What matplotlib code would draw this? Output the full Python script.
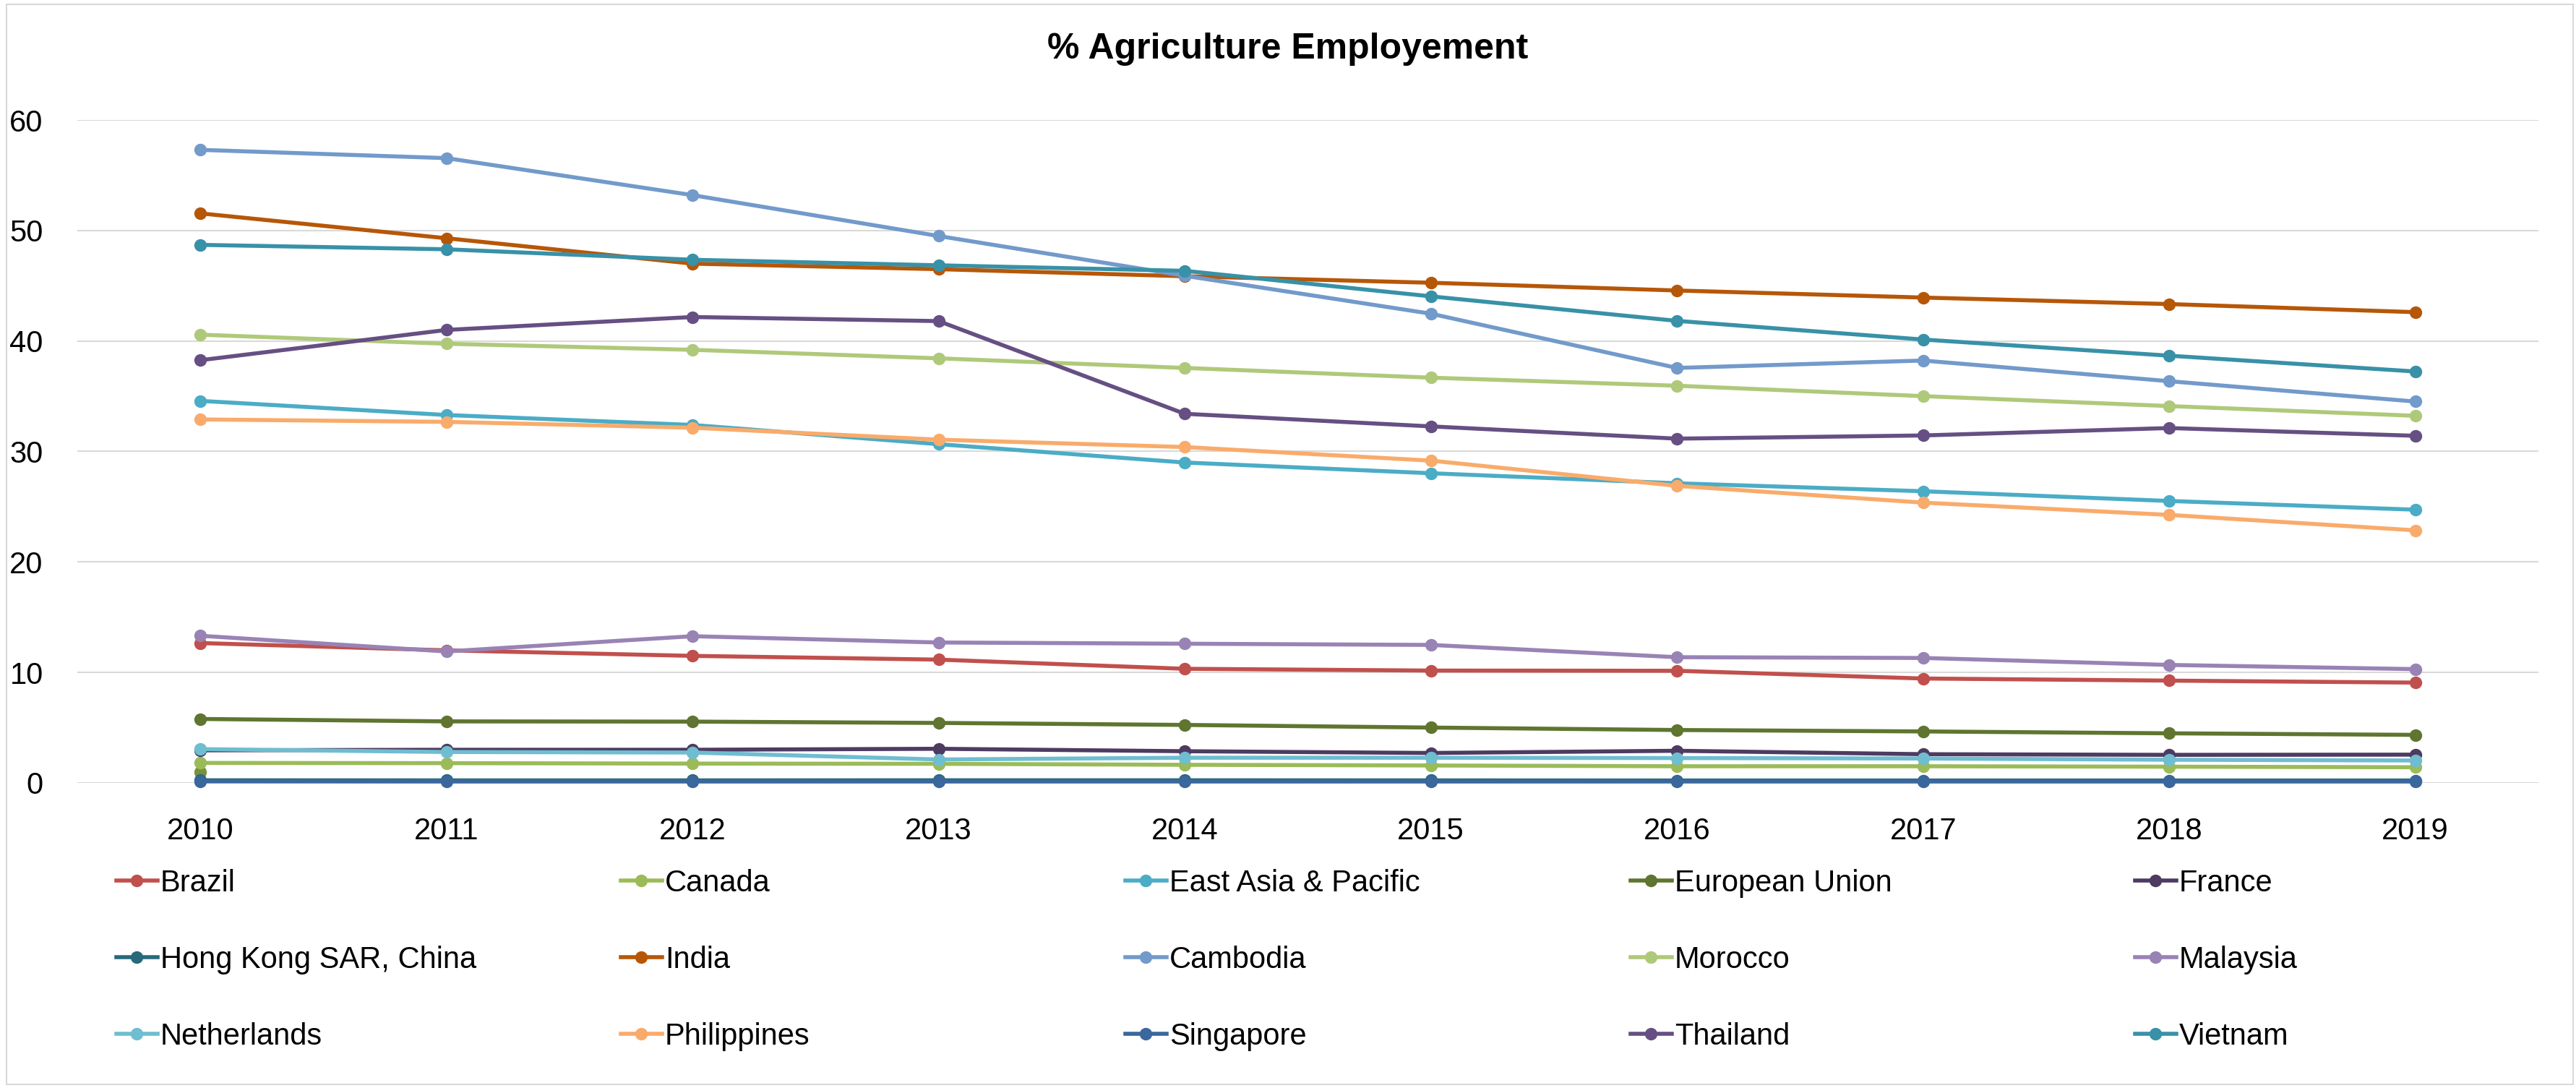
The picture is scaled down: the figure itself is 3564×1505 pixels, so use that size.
import numpy as np
import matplotlib
matplotlib.use("Agg")
import matplotlib.pyplot as plt
from matplotlib.patches import Rectangle

plt.rcParams['font.family'] = ['Liberation Sans', 'DejaVu Sans']

years = ["2010", "2011", "2012", "2013", "2014", "2015", "2016", "2017", "2018", "2019"]

brazil = [12.66, 12.0, 11.5, 11.16, 10.33, 10.17, 10.15, 9.45, 9.26, 9.08]
canada = [1.81, 1.79, 1.75, 1.73, 1.64, 1.58, 1.51, 1.51, 1.47, 1.42]
east_asia = [34.58, 33.3, 32.4, 30.66, 29.0, 28.03, 27.12, 26.4, 25.52, 24.73]
eu = [5.79, 5.57, 5.55, 5.43, 5.25, 5.01, 4.79, 4.66, 4.49, 4.35]
france = [2.95, 3.0, 3.0, 3.09, 2.87, 2.71, 2.91, 2.6, 2.54, 2.56]
hong_kong = [0.24, 0.23, 0.23, 0.24, 0.24, 0.23, 0.22, 0.22, 0.22, 0.22]
india = [51.55, 49.3, 47.0, 46.5, 45.86, 45.27, 44.57, 43.93, 43.34, 42.61]
cambodia = [57.3, 56.55, 53.2, 49.5, 45.9, 42.47, 37.56, 38.23, 36.36, 34.52]
morocco = [40.57, 39.75, 39.2, 38.43, 37.56, 36.68, 35.95, 35.01, 34.11, 33.23]
malaysia = [13.32, 11.9, 13.28, 12.71, 12.6, 12.49, 11.38, 11.31, 10.68, 10.3]
netherlands = [3.06, 2.8, 2.75, 2.12, 2.28, 2.28, 2.25, 2.21, 2.1, 2.03]
philippines = [32.9, 32.68, 32.15, 31.07, 30.4, 29.17, 26.89, 25.37, 24.26, 22.86]
singapore = [0.14, 0.13, 0.13, 0.13, 0.13, 0.13, 0.13, 0.13, 0.13, 0.13]
thailand = [38.26, 41.0, 42.17, 41.8, 33.41, 32.27, 31.16, 31.45, 32.12, 31.42]
vietnam = [48.7, 48.3, 47.35, 46.85, 46.35, 44.04, 41.82, 40.13, 38.67, 37.24]
# lone point at 2010 with no legend entry
extra = [0.98] + [np.nan] * 9

names = ["Brazil", "Canada", "East Asia & Pacific", "European Union", "France",
         "Hong Kong SAR, China", "India", "Cambodia", "Morocco", "Malaysia",
         "Netherlands", "Philippines", "Singapore", "Thailand", "Vietnam"]
series = [brazil, canada, east_asia, eu, france, hong_kong, india, cambodia,
          morocco, malaysia, netherlands, philippines, singapore, thailand, vietnam]
colors = ["#C0504D", "#9BBB59", "#4BACC6", "#5F7530", "#4D3B62",
          "#276A7C", "#B65708", "#729ACA", "#AFC97A", "#9983B5",
          "#6FBDD1", "#F9AB6B", "#3A679C", "#664F83", "#3891A7"]

fig = plt.figure(figsize=(35.64, 15.05), dpi=100)
ax = fig.add_axes([0.030, 0.2804, 0.9554, 0.6093])

x = np.arange(len(years))
ax.plot(x, extra, marker='o', color="#77933C", lw=4, ms=11.5, clip_on=False, zorder=2)
handles = []
for vals, name, col in zip(series, names, colors):
    h, = ax.plot(x, vals, marker='o', color=col, lw=4, ms=11.5, label=name,
                 clip_on=False, zorder=3)
    handles.append(h)

ax.set_xlim(-0.5, len(years) - 0.5)
ax.set_ylim(0, 60)
ax.set_yticks([0, 10, 20, 30, 40, 50, 60])
ax.set_xticks(x)
ax.set_xticklabels(years)
ax.tick_params(axis='both', length=0, labelsize=30)
ax.tick_params(axis='y', pad=34)
ax.tick_params(axis='x', pad=34)
ax.grid(axis='y', color="#D9D9D9", lw=1.5)
ax.set_axisbelow(True)
for s in ax.spines.values():
    s.set_visible(False)

fig.text(0.5, 0.946, "% Agriculture Employement", fontsize=36, fontweight='bold',
         ha='center', va='baseline')

col_x = [0.0452, 0.241, 0.4369, 0.633, 0.8288]
for c in range(5):
    fig.legend(handles[c::5], names[c::5], loc='center left',
               bbox_to_anchor=(col_x[c], 0.1177), frameon=False, fontsize=30,
               handlelength=1.36, handletextpad=0.1, labelspacing=1.58,
               borderpad=0, borderaxespad=0)

fig.patches.append(Rectangle((0.0025, 0.003), 0.9964, 0.993, transform=fig.transFigure,
                             fill=False, edgecolor="#D9D9D9", lw=1.5))

fig.savefig("out.png", dpi=100)
